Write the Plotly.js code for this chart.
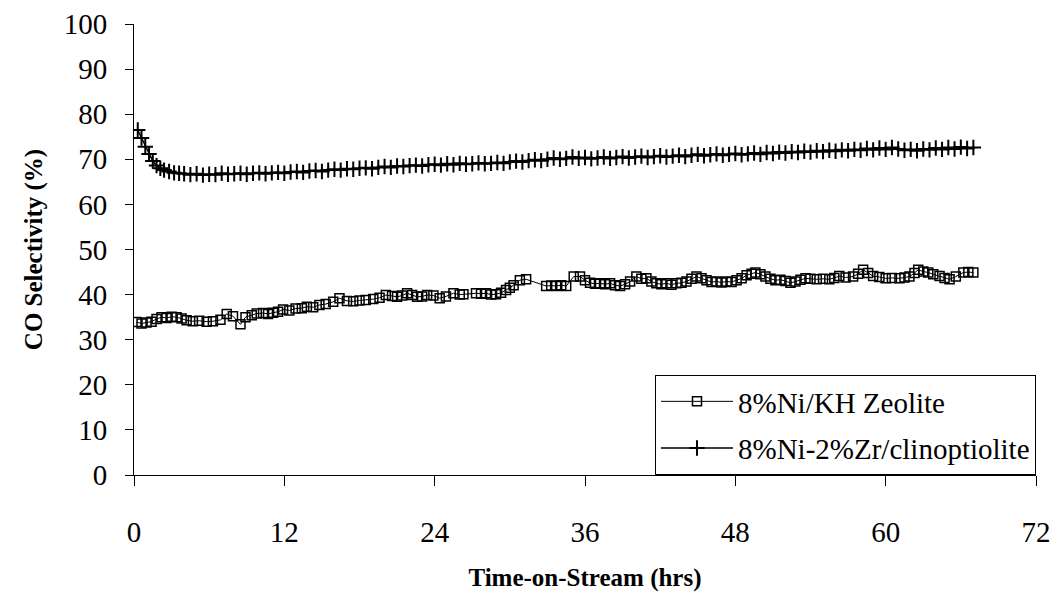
<!DOCTYPE html>
<html>
<head>
<meta charset="utf-8">
<script src="https://cdn.plot.ly/plotly-3.0.1.min.js"></script>
<style>html,body{margin:0;padding:0;background:#fff;}#chart{width:1056px;height:592px;}</style>
</head>
<body>
<div id="chart"></div>
<script>
var seriesNames = ["8%Ni/KH Zeolite", "8%Ni-2%Zr/clinoptiolite"];
var xTickVals = [0, 12, 24, 36, 48, 60, 72];
var yTickVals = [0, 10, 20, 30, 40, 50, 60, 70, 80, 90, 100];

var timeKH = [0.2,0.6,1.0,1.4,1.8,2.2,2.6,3.0,3.4,3.8,4.2,4.7,5.2,5.8,6.3,6.9,7.4,7.9,8.5,8.9,9.4,9.8,10.3,10.7,11.1,11.5,11.9,12.4,12.9,13.4,13.8,14.3,14.8,15.3,15.9,16.4,17.0,17.5,18.0,18.5,19.1,19.6,20.1,20.6,21.0,21.4,21.8,22.2,22.6,23.0,23.4,23.9,24.4,24.9,25.5,26.0,26.3,27.3,27.7,28.1,28.5,28.9,29.3,29.7,30.0,30.3,30.8,31.3,32.9,33.3,33.7,34.1,34.5,35.1,35.6,36.0,36.4,36.8,37.2,37.6,38.0,38.4,38.8,39.2,39.6,40.1,40.5,40.9,41.3,41.7,42.1,42.5,42.9,43.3,43.7,44.1,44.5,44.9,45.3,45.7,46.1,46.5,46.9,47.3,47.7,48.1,48.5,48.9,49.3,49.6,50.0,50.4,50.8,51.2,51.6,52.0,52.4,52.8,53.2,53.6,54.0,54.5,55.0,55.5,55.9,56.3,56.8,57.4,57.8,58.2,58.6,59.0,59.5,60.0,60.5,61.1,61.5,61.9,62.3,62.6,63.0,63.4,63.8,64.3,64.7,65.1,65.6,66.2,66.6,67.0];
var selKH = [33.9,33.6,33.8,34.0,34.6,35.0,34.8,35.1,35.0,34.7,34.3,34.1,34.2,34.0,34.1,34.4,35.7,35.2,33.4,35.0,35.4,35.8,35.9,35.7,36.0,36.2,36.7,36.5,36.9,37.0,37.3,37.2,37.7,37.9,38.4,39.2,38.6,38.5,38.7,38.8,39.0,39.3,39.9,39.7,39.5,39.8,40.3,39.9,39.5,39.6,39.9,39.8,39.2,39.6,40.3,40.0,40.1,40.3,40.2,40.3,40.0,40.1,40.4,41.0,41.5,42.1,43.2,43.4,41.9,42.0,41.9,42.1,41.9,44.0,44.0,43.2,42.6,42.4,42.5,42.3,42.5,42.1,41.9,42.3,42.9,44.0,43.5,43.6,42.9,42.5,42.3,42.5,42.2,42.5,42.6,42.9,43.5,44.0,43.6,43.2,42.8,42.9,42.7,42.9,42.8,43.2,43.6,44.3,44.6,44.9,44.5,44.0,43.5,43.2,43.3,43.0,42.6,42.9,43.3,43.6,43.5,43.4,43.5,43.4,43.7,44.1,43.8,44.0,44.6,45.5,44.8,44.1,43.9,43.6,43.7,43.6,43.8,44.0,44.8,45.5,45.1,44.9,44.5,44.1,43.7,43.4,44.0,44.9,45.0,44.9];

var timeZr = [0.3,0.6,0.9,1.2,1.5,1.8,2.1,2.4,2.8,3.2,3.6,4.0,4.5,5.0,5.5,6.0,6.5,7.0,7.5,8.0,8.5,9.0,9.5,10.0,10.5,11.0,11.5,12.0,12.5,13.0,13.5,14.0,14.5,15.0,15.5,16.0,16.5,17.0,17.5,18.0,18.5,19.0,19.5,20.0,20.5,21.0,21.5,22.0,22.5,23.0,23.5,24.0,24.5,25.0,25.5,26.0,26.5,27.0,27.5,28.0,28.5,29.0,29.5,30.0,30.5,31.0,31.5,32.0,32.5,33.0,33.5,34.0,34.5,35.0,35.5,36.0,36.5,37.0,37.5,38.0,38.5,39.0,39.5,40.0,40.5,41.0,41.5,42.0,42.5,43.0,43.5,44.0,44.5,45.0,45.5,46.0,46.5,47.0,47.5,48.0,48.5,49.0,49.5,50.0,50.5,51.0,51.5,52.0,52.5,53.0,53.5,54.0,54.5,55.0,55.5,56.0,56.5,57.0,57.5,58.0,58.5,59.0,59.5,60.0,60.5,61.0,61.5,62.0,62.5,63.0,63.5,64.0,64.5,65.0,65.5,66.0,66.5,67.0];
var selZr = [76.5,74.7,72.8,71.2,69.6,68.6,68.0,67.6,67.3,67.0,66.9,66.8,66.6,66.8,66.5,66.7,66.6,66.9,66.7,66.8,66.9,66.7,66.9,67.0,66.8,67.0,67.1,66.9,67.2,67.3,67.1,67.4,67.5,67.3,67.6,67.8,67.6,67.9,67.8,68.0,68.1,67.9,68.2,68.4,68.2,68.5,68.4,68.6,68.7,68.5,68.8,68.9,68.7,69.0,68.8,69.1,68.9,69.0,69.2,69.0,69.1,69.3,69.1,69.4,69.6,69.4,69.7,69.9,69.7,70.0,70.3,70.0,70.2,70.5,70.2,70.4,70.1,70.3,70.5,70.2,70.4,70.6,70.3,70.5,70.7,70.4,70.6,70.8,70.5,70.7,70.9,70.6,70.9,71.1,70.8,71.0,71.2,70.9,71.1,71.3,71.0,71.2,71.4,71.1,71.5,71.3,71.6,71.4,71.7,71.5,71.8,71.6,71.9,71.7,72.0,71.8,72.1,71.9,72.2,72.0,72.4,72.1,72.5,72.2,72.6,72.3,72.0,72.2,71.9,72.3,72.1,72.5,72.2,72.6,72.3,72.7,72.4,72.6];

var serif = "Liberation Serif";

var traces = [
  {
    x: timeKH, y: selKH, name: seriesNames[0], type: "scatter", mode: "lines+markers",
    legendgroup: "a",
    line: {color: "#000", width: 1},
    marker: {symbol: "square-open", size: 9, color: "#000", line: {width: 1.5, color: "#000"}}
  },
  {
    x: timeZr, y: selZr, name: seriesNames[1], type: "scatter", mode: "lines+markers",
    legendgroup: "b",
    line: {color: "#000", width: 1.5},
    marker: {symbol: "cross-thin", size: 11, color: "#000", line: {width: 2, color: "#000"}}
  }
];

var layout = {
  width: 1056, height: 592,
  margin: {l: 134, r: 20, t: 24, b: 117},
  paper_bgcolor: "#fff", plot_bgcolor: "#fff",
  font: {family: serif, color: "#000", size: 29},
  showlegend: true,
  legend: {
    x: 1, xanchor: "right", y: 0, yanchor: "bottom",
    bordercolor: "#000", borderwidth: 1, bgcolor: "#fff",
    font: {family: serif, size: 29, color: "#000"},
    itemwidth: 72,
    tracegroupgap: 6
  },
  xaxis: {
    range: [0, 72], tickmode: "array", tickvals: xTickVals, ticktext: xTickVals.map(String),
    showgrid: false, zeroline: false, showline: true, linecolor: "#000", linewidth: 1,
    ticks: "outside", ticklen: 10, tickcolor: "#000", tickwidth: 1,
    ticklabelstandoff: 21,
    tickfont: {family: serif, size: 29, color: "#000"},
    title: {text: "Time-on-Stream (hrs)", font: {family: serif, size: 25, color: "#000", weight: "bold"}, standoff: 22}
  },
  yaxis: {
    range: [0, 100], tickmode: "array", tickvals: yTickVals, ticktext: yTickVals.map(String),
    showgrid: false, zeroline: false, showline: true, linecolor: "#000", linewidth: 1,
    ticks: "outside", ticklen: 8, tickcolor: "#000", tickwidth: 1,
    ticklabelstandoff: 12,
    tickfont: {family: serif, size: 29, color: "#000"},
    title: {text: "CO Selectivity (%)", font: {family: serif, size: 25, color: "#000", weight: "bold"}, standoff: 13}
  }
};

Plotly.newPlot("chart", traces, layout, {displayModeBar: false, staticPlot: true});
</script>
</body>
</html>
